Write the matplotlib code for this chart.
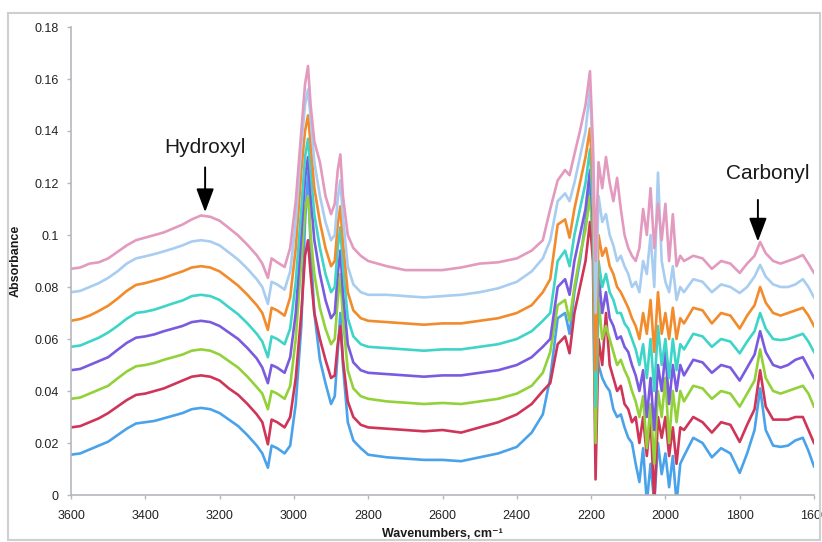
import matplotlib
matplotlib.use('Agg')
import matplotlib.pyplot as plt
from matplotlib.patches import Rectangle

plt.rcParams['font.family'] = ['Liberation Sans', 'DejaVu Sans']

# wavenumber grid (cm-1)
wavenumber = [
    # 3600-3100
    3600, 3575, 3550, 3525, 3500, 3475, 3450, 3425, 3400, 3375, 3350, 3325,
    3300, 3275, 3250, 3225, 3200, 3175, 3150, 3125, 3100,
    # C-H region
    3085, 3070, 3060, 3045, 3025, 3010, 2995, 2980, 2970, 2962, 2955, 2945,
    2930, 2915, 2900, 2890, 2882, 2875, 2868, 2855, 2840, 2820, 2800,
    # plateau
    2750, 2700, 2650, 2600, 2550, 2500, 2450, 2400, 2360, 2330,
    # rise to 2200
    2310, 2290, 2270, 2258, 2245, 2230, 2215, 2203, 2195,
    # noisy region
    2188, 2180, 2170, 2160, 2150, 2140, 2130, 2120, 2110, 2100, 2090, 2080,
    2070, 2060, 2050, 2040, 2030, 2020, 2010, 2000, 1990, 1980, 1970, 1960,
    # carbonyl region
    1950, 1925, 1900, 1875, 1850, 1825, 1800, 1780, 1760, 1745, 1730, 1710,
    1690, 1670, 1650, 1630, 1615, 1600,
]

abs_blue = [
    0.0155, 0.016, 0.0175, 0.019, 0.0205, 0.023, 0.0255, 0.0275, 0.028, 0.0285, 0.0295, 0.0305,
    0.0315, 0.033, 0.0335, 0.033, 0.0315, 0.029, 0.0265, 0.023, 0.019,
    0.016, 0.0105, 0.019, 0.018, 0.016, 0.019, 0.035, 0.065, 0.105, 0.124, 0.095, 0.07,
    0.052, 0.043, 0.035, 0.038, 0.055, 0.07, 0.05, 0.028, 0.021, 0.018, 0.0155,
    0.0145, 0.014, 0.0135, 0.0135, 0.013, 0.0145, 0.016, 0.0185, 0.024, 0.031,
    0.045, 0.068, 0.07, 0.062, 0.078, 0.09, 0.105, 0.12, 0.095,
    0.06, 0.05, 0.045, 0.042, 0.04, 0.033, 0.03, 0.031, 0.026, 0.022, 0.02, 0.012,
    0.005, 0.018, -0.003, 0.012, -0.003, 0.02, 0.008, 0.016, 0.003, 0.015, -0.003, 0.012,
    0.015, 0.022, 0.02, 0.0145, 0.018, 0.016, 0.0085, 0.016, 0.025, 0.041, 0.025, 0.019,
    0.0185, 0.019, 0.021, 0.022, 0.017, 0.011,
]

abs_red = [
    0.026, 0.0265, 0.028, 0.0295, 0.0315, 0.034, 0.0365, 0.0385, 0.039, 0.040, 0.041, 0.0425,
    0.044, 0.0455, 0.046, 0.0455, 0.044, 0.041, 0.0385, 0.035, 0.031,
    0.028, 0.0195, 0.029, 0.028, 0.026, 0.03, 0.045, 0.07, 0.092, 0.098, 0.085, 0.07,
    0.06, 0.052, 0.045, 0.046, 0.058, 0.065, 0.052, 0.036, 0.030, 0.027, 0.026,
    0.0255, 0.025, 0.0245, 0.025, 0.024, 0.026, 0.028, 0.031, 0.035, 0.04,
    0.043, 0.058, 0.061, 0.0545, 0.07, 0.08, 0.09, 0.105, 0.09,
    0.006, 0.06, 0.05, 0.07, 0.05, 0.045, 0.04, 0.042, 0.035, 0.033, 0.028, 0.03,
    0.02, 0.03, 0.015, 0.03, -0.003, 0.03, 0.022, 0.03, 0.015, 0.026, 0.012, 0.026,
    0.025, 0.03, 0.028, 0.024, 0.028, 0.027, 0.0204, 0.027, 0.033, 0.048, 0.034, 0.029,
    0.029, 0.029, 0.030, 0.030, 0.025, 0.020,
]

abs_green = [
    0.037, 0.0375, 0.039, 0.0405, 0.042, 0.0448, 0.0475, 0.0495, 0.050, 0.0508, 0.052, 0.053,
    0.054, 0.0555, 0.056, 0.0555, 0.054, 0.0515, 0.049, 0.0455, 0.0415,
    0.039, 0.033, 0.04, 0.039, 0.037, 0.042, 0.06, 0.09, 0.11, 0.115, 0.1, 0.085,
    0.072, 0.064, 0.058, 0.06, 0.075, 0.085, 0.068, 0.048, 0.041, 0.038, 0.037,
    0.036, 0.0355, 0.035, 0.0354, 0.035, 0.036, 0.037, 0.039, 0.042, 0.047,
    0.055, 0.073, 0.075, 0.067, 0.08, 0.092, 0.102, 0.115, 0.1,
    0.02, 0.075, 0.06, 0.065, 0.06, 0.055, 0.05, 0.052, 0.048, 0.045, 0.04, 0.036,
    0.03, 0.038, 0.018, 0.035, 0.012, 0.04, 0.03, 0.045, 0.02, 0.04, 0.028, 0.04,
    0.036, 0.042, 0.041, 0.037, 0.04, 0.039, 0.034, 0.039, 0.044, 0.056, 0.045, 0.040,
    0.039, 0.040, 0.041, 0.042, 0.039, 0.034,
]

abs_purple = [
    0.048, 0.0485, 0.050, 0.0515, 0.053, 0.0558, 0.0585, 0.0605, 0.061, 0.0618, 0.063, 0.064,
    0.065, 0.0665, 0.067, 0.0665, 0.065, 0.0625, 0.060, 0.0565, 0.0525,
    0.049, 0.043, 0.05, 0.049, 0.047, 0.053, 0.07, 0.1, 0.122, 0.13, 0.115, 0.098,
    0.085, 0.075, 0.068, 0.07, 0.085, 0.094, 0.078, 0.058, 0.051, 0.048, 0.047,
    0.0465, 0.046, 0.0455, 0.046, 0.046, 0.047, 0.048, 0.05, 0.053, 0.057,
    0.06, 0.08, 0.083, 0.077, 0.09, 0.1, 0.11, 0.125, 0.105,
    0.04, 0.085, 0.07, 0.078, 0.068, 0.065, 0.06, 0.061, 0.057, 0.055, 0.05, 0.046,
    0.04, 0.048, 0.03, 0.045, 0.025, 0.05, 0.04, 0.055, 0.035, 0.05, 0.04, 0.05,
    0.046, 0.052, 0.051, 0.047, 0.05, 0.049, 0.044, 0.049, 0.054, 0.063, 0.055, 0.050,
    0.049, 0.050, 0.052, 0.053, 0.049, 0.045,
]

abs_teal = [
    0.057, 0.0575, 0.059, 0.0605, 0.0625, 0.065, 0.0678, 0.070, 0.0705, 0.0713, 0.0725, 0.0737,
    0.0748, 0.0765, 0.077, 0.0765, 0.075, 0.0722, 0.0695, 0.066, 0.062,
    0.059, 0.053, 0.061, 0.06, 0.058, 0.064, 0.082, 0.11, 0.13, 0.137, 0.125, 0.108,
    0.095, 0.085, 0.078, 0.08, 0.095, 0.103, 0.088, 0.068, 0.061, 0.058, 0.057,
    0.0565, 0.056, 0.0555, 0.056, 0.056, 0.057, 0.058, 0.06, 0.063, 0.067,
    0.07, 0.09, 0.094, 0.088, 0.1, 0.11, 0.12, 0.133, 0.11,
    0.034, 0.09, 0.08, 0.085, 0.078, 0.075, 0.07, 0.07, 0.066, 0.064, 0.06, 0.056,
    0.05, 0.058, 0.045, 0.06, 0.04, 0.065, 0.05, 0.06, 0.045, 0.06, 0.048, 0.058,
    0.056, 0.062, 0.061, 0.057, 0.06, 0.059, 0.0545, 0.059, 0.063, 0.070, 0.064, 0.060,
    0.0596, 0.060, 0.061, 0.062, 0.059, 0.055,
]

abs_orange = [
    0.067, 0.0677, 0.069, 0.0708, 0.0728, 0.0755, 0.0785, 0.0808, 0.0815, 0.0825, 0.0835, 0.0848,
    0.086, 0.0875, 0.088, 0.0875, 0.086, 0.0833, 0.0805, 0.077, 0.073,
    0.07, 0.0635, 0.072, 0.071, 0.069, 0.076, 0.095, 0.125, 0.14, 0.146, 0.135, 0.118,
    0.105, 0.095, 0.088, 0.09, 0.104, 0.111, 0.097, 0.078, 0.071, 0.068, 0.067,
    0.0665, 0.066, 0.0655, 0.066, 0.066, 0.067, 0.068, 0.07, 0.073, 0.078,
    0.083, 0.104, 0.106, 0.099, 0.11, 0.12, 0.13, 0.141, 0.12,
    0.048, 0.1, 0.092, 0.095, 0.088, 0.085, 0.08, 0.078, 0.075, 0.072, 0.068, 0.065,
    0.06, 0.07, 0.062, 0.075, 0.055, 0.078, 0.062, 0.07, 0.06, 0.072, 0.06, 0.068,
    0.066, 0.072, 0.071, 0.066, 0.07, 0.069, 0.064, 0.069, 0.073, 0.080, 0.074, 0.070,
    0.069, 0.070, 0.071, 0.072, 0.069, 0.065,
]

abs_lightblue = [
    0.078, 0.0785, 0.080, 0.0815, 0.0835, 0.086, 0.089, 0.091, 0.0918, 0.0927, 0.0937, 0.0948,
    0.096, 0.0975, 0.098, 0.0975, 0.096, 0.0933, 0.0905, 0.087, 0.083,
    0.08, 0.0735, 0.082, 0.081, 0.079, 0.086, 0.105, 0.135, 0.15, 0.156, 0.145, 0.128,
    0.115, 0.105, 0.098, 0.1, 0.114, 0.121, 0.107, 0.088, 0.081, 0.078, 0.077,
    0.077, 0.0765, 0.076, 0.0765, 0.077, 0.078, 0.0795, 0.082, 0.086, 0.091,
    0.098, 0.113, 0.116, 0.113, 0.12, 0.13, 0.14, 0.156, 0.13,
    0.07, 0.115, 0.105, 0.108, 0.1, 0.096, 0.09, 0.092, 0.088, 0.085, 0.08, 0.082,
    0.078, 0.09, 0.085, 0.1, 0.08, 0.124, 0.09, 0.082, 0.078, 0.088, 0.075, 0.08,
    0.078, 0.083, 0.082, 0.078, 0.081, 0.08, 0.0777, 0.08, 0.084, 0.0885, 0.084, 0.081,
    0.080, 0.080, 0.081, 0.083, 0.080, 0.076,
]

abs_pink = [
    0.087, 0.0875, 0.089, 0.0895, 0.091, 0.0935, 0.096, 0.098, 0.099, 0.100, 0.101, 0.1025,
    0.104, 0.106, 0.1075, 0.107, 0.1055, 0.1027, 0.0998, 0.0962, 0.0922,
    0.089, 0.0835, 0.091, 0.0895, 0.0877, 0.095, 0.113, 0.14, 0.158, 0.165, 0.15, 0.136,
    0.128, 0.115, 0.108, 0.112, 0.125, 0.131, 0.115, 0.1, 0.095, 0.092, 0.09,
    0.088, 0.0865, 0.0865, 0.0865, 0.0875, 0.089, 0.0895, 0.091, 0.094, 0.098,
    0.11, 0.121, 0.125, 0.123, 0.131, 0.14, 0.15, 0.163, 0.135,
    0.09, 0.128, 0.118, 0.13, 0.12, 0.113, 0.122, 0.11, 0.1, 0.095, 0.092, 0.09,
    0.095, 0.11, 0.1, 0.118, 0.095, 0.112, 0.098, 0.112, 0.09, 0.108, 0.088, 0.092,
    0.09, 0.092, 0.091, 0.087, 0.09, 0.089, 0.0854, 0.089, 0.092, 0.0973, 0.093, 0.090,
    0.089, 0.090, 0.091, 0.0923, 0.089, 0.0854,
]

series = [abs_blue, abs_red, abs_green, abs_purple,
          abs_teal, abs_orange, abs_lightblue, abs_pink]
colors = ['#4aa3ea', '#cf3558', '#93d13a', '#7a5be0',
          '#3fd4c8', '#f28b2c', '#a8cdf0', '#e39abf']

yticks = [0, 0.02, 0.04, 0.06, 0.08, 0.1, 0.12, 0.14, 0.16, 0.18]
ytick_labels = ['0', '0.02', '0.04', '0.06', '0.08', '0.1', '0.12', '0.14', '0.16', '0.18']
xticks = [3600, 3400, 3200, 3000, 2800, 2600, 2400, 2200, 2000, 1800, 1600]

for s in series:
    assert len(s) == len(wavenumber)

fig = plt.figure(figsize=(8.22, 5.42), dpi=100)
ax = fig.add_axes([71 / 822, 1 - 495 / 542, (814 - 71) / 822, (495 - 27) / 542])

for s, c in zip(series, colors):
    ax.plot(wavenumber, s, color=c, lw=1.9, solid_joinstyle='round')

ax.set_xlim(3600, 1600)
ax.set_ylim(0, 0.18)
ax.set_xticks(xticks)
ax.set_xticklabels([str(x) for x in xticks])
ax.set_yticks(yticks)
ax.set_yticklabels(ytick_labels)

for side in ['top', 'right']:
    ax.spines[side].set_visible(False)
for side in ['left', 'bottom']:
    ax.spines[side].set_color('#b4b8bc')
    ax.spines[side].set_linewidth(1.2)
ax.tick_params(colors='#b4b8bc', length=3, width=1, labelcolor='#222222',
               labelsize=9)
ax.tick_params(axis='y', pad=6)
ax.tick_params(axis='x', pad=8)

ax.set_xlabel('Wavenumbers, cm\u207b\u00b9', fontsize=9, fontweight='bold',
              color='#1a1a1a', labelpad=4)
ax.set_ylabel('Absorbance', fontsize=9, fontweight='bold', color='#1a1a1a')
ax.yaxis.set_label_coords(-0.066, 0.5)

arrow = dict(arrowstyle='-|>,head_length=0.8,head_width=0.3', color='black',
             lw=1.4, mutation_scale=18, shrinkA=0, shrinkB=0)
ax.annotate('', xy=(3239, 0.1088), xytext=(3239, 0.126), arrowprops=arrow)
ax.text(3239, 0.1335, 'Hydroxyl', ha='center', va='center', fontsize=15,
        color='#1a1a1a')
ax.annotate('', xy=(1751, 0.0975), xytext=(1751, 0.1135), arrowprops=arrow)
ax.text(1724, 0.1235, 'Carbonyl', ha='center', va='center', fontsize=15,
        color='#1a1a1a')

# light chart-area border
fig.patches.append(Rectangle((8 / 822, 2 / 542), 812 / 822, 527 / 542,
                             transform=fig.transFigure, fill=False,
                             edgecolor='#cdd0d3', lw=1.5))

fig.savefig('out.png', dpi=100)
